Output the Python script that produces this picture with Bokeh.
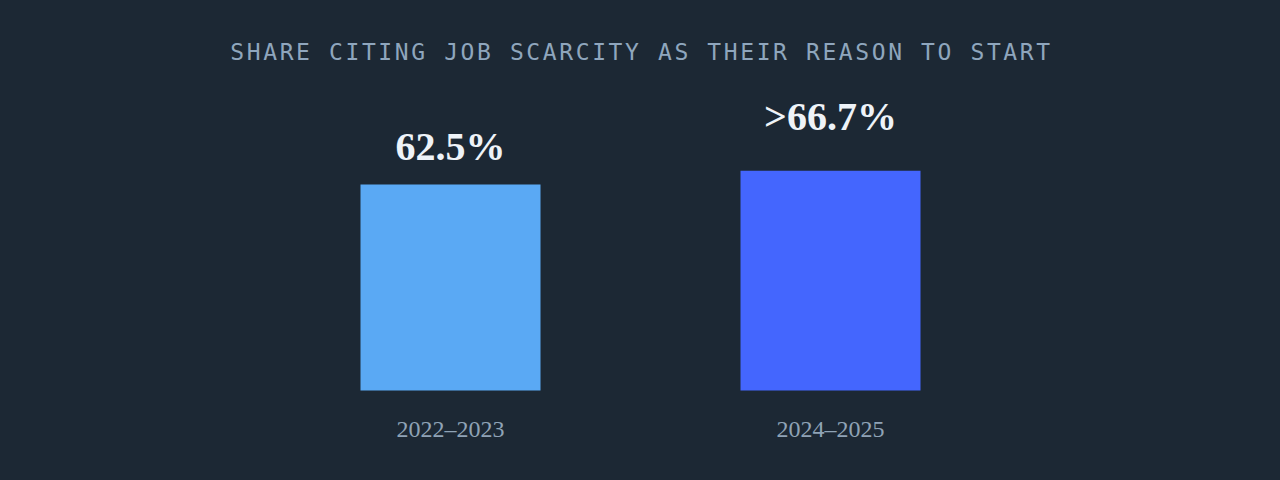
from bokeh.plotting import figure
from bokeh.models import ColumnDataSource, FactorRange, Range1d, InlineStyleSheet
from bokeh.layouts import column
from bokeh.core.properties import value
from bokeh.embed import file_html
from bokeh.resources import INLINE

# ---- data ----
title_text = "SHARE CITING JOB SCARCITY AS THEIR REASON TO START"
categories = ["2022\u20132023", "2024\u20132025"]
values = [62.5, 66.7]
value_labels = ["62.5%", ">66.7%"]
bar_colors = ["#5aa9f4", "#4466fe"]
label_offsets = [-38, -54]

BG = "#1c2834"
W = 1280
TOP_H = 88

# ---- title figure ----
top = figure(width=W, height=TOP_H, output_backend="svg", toolbar_location=None,
             x_range=Range1d(0, W), y_range=Range1d(0, TOP_H), min_border=0)
top.stylesheets = [InlineStyleSheet(css=":host { letter-spacing: 2.6px; }")]
top.text(x=[W / 2], y=[36.5], x_offset=-64, text=[title_text],
         text_font=value("DejaVu Sans Mono"),
         text_font_size="23px", text_color="#8fa6bd", text_align="center",
         text_baseline="alphabetic")

# ---- bar figure ----
H = 480 - TOP_H
px_per_unit = 206 / 62.5
y0 = -90 / px_per_unit
y_range = Range1d(y0, y0 + H / px_per_unit)
units_w = W / 380
x_range = FactorRange(factors=categories, range_padding=(units_w - 2) / 2,
                      range_padding_units="absolute")

p = figure(width=W, height=H, output_backend="svg", toolbar_location=None,
           x_range=x_range, y_range=y_range, min_border=0)

src = ColumnDataSource(dict(cat=categories, val=values, lab=value_labels,
                            color=bar_colors, off=label_offsets,
                            zero=[0] * len(values)))
p.vbar(x="cat", top="val", width=180 / 380, color="color", source=src, line_color=None)
p.text(x="cat", y="val", text="lab", y_offset="off", source=src,
       text_font=value("Liberation Serif"), text_font_style="bold",
       text_font_size="40px", text_color="#eef3f8", text_align="center",
       text_baseline="alphabetic")
p.text(x="cat", y="zero", text="cat", y_offset=38, source=src,
       text_font=value("Liberation Serif"), text_font_size="24px",
       text_color="#8fa3b6", text_align="center", text_baseline="alphabetic")

for f in (top, p):
    f.axis.visible = False
    f.grid.visible = False
    f.background_fill_color = BG
    f.border_fill_color = BG
    f.outline_line_color = None

layout = column(top, p, spacing=0)
html = file_html(layout, INLINE)
html = html.replace("<head>", "<head><style>html,body{background:%s;}</style>" % BG, 1)
open("out.html", "w").write(html)
